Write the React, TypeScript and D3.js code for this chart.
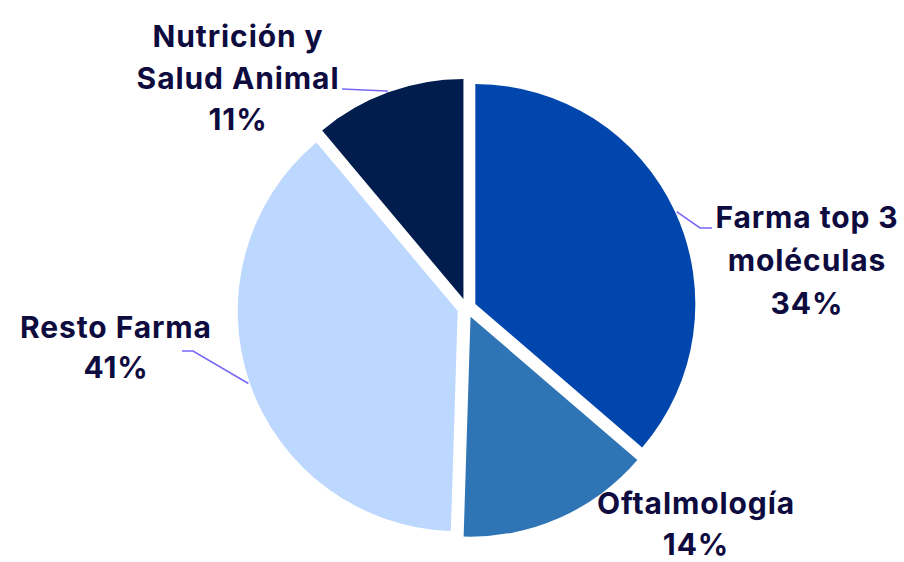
import React from "react";
import * as d3 from "d3";

const categories = ["Farma top 3 moléculas", "Oftalmología", "Resto Farma", "Nutrición y Salud Animal"];
// slice shares as drawn in the picture (angular extent)
const values = [36.3, 14.2, 38.4, 11.1];
const labelLines = [
  ["Farma top 3", "moléculas", "34%"],
  ["Oftalmología", "14%"],
  ["Resto Farma", "41%"],
  ["Nutrición y", "Salud Animal", "11%"],
];
const colors = ["#0046AD", "#2F75B5", "#BDD8FE", "#001D4E"];

// label layout (anchor center x, first baseline y)
const labelPos = [
  { x: 807, y: 228 },
  { x: 696, y: 514 },
  { x: 116, y: 338 },
  { x: 238, y: 47 },
];
// leader line waypoints (null = no leader)
const leaders: ({ elbow: [number, number]; end: [number, number] } | null)[] = [
  { elbow: [700, 228], end: [712, 228] },
  null,
  { elbow: [193, 351], end: [182, 351] },
  { elbow: [387, 91], end: [342, 89] },
];

const W = 904;
const H = 562;
const cx = 466.7;
const cy = 308;
const R = 220;
const explode = 9.5;
const lineH = [43, 41, 40, 41.5];

export default function App() {
  const pie = d3.pie<number>().sort(null).value((d) => d)(values);
  const arc = d3.arc<d3.PieArcDatum<number>>().innerRadius(0).outerRadius(R);
  return (
    <svg width={W} height={H} style={{ position: "absolute", left: 0, top: 0, background: "#fff" }}>
      <g transform={`translate(${cx},${cy})`}>
        {pie.map((p, i) => {
          const mid = (p.startAngle + p.endAngle) / 2;
          const dx = Math.sin(mid) * explode;
          const dy = -Math.cos(mid) * explode;
          return (
            <path key={i} d={arc(p) || ""} fill={colors[i]} transform={`translate(${dx},${dy})`} />
          );
        })}
      </g>
      {pie.map((p, i) => {
        const L = leaders[i];
        if (!L) return null;
        const mid = (p.startAngle + p.endAngle) / 2;
        const rr = R + explode + 1.5;
        const sx = cx + Math.sin(mid) * rr;
        const sy = cy - Math.cos(mid) * rr;
        const path = d3.line()([[sx, sy], L.elbow, L.end]);
        return <path key={"l" + i} d={path || ""} fill="none" stroke="#7768F6" strokeWidth={1.6} />;
      })}
      {labelLines.map((lines, i) => (
        <text
          key={"t" + i}
          textAnchor="middle"
          fontFamily="Inter, 'Open Sans', sans-serif"
          fontWeight={700}
          fontSize={30}
          fill="#0E0B3F"
          letterSpacing={0.9}
        >
          {lines.map((s, j) => (
            <tspan key={j} x={labelPos[i].x} y={labelPos[i].y + j * lineH[i]}>
              {s}
            </tspan>
          ))}
        </text>
      ))}
    </svg>
  );
}
